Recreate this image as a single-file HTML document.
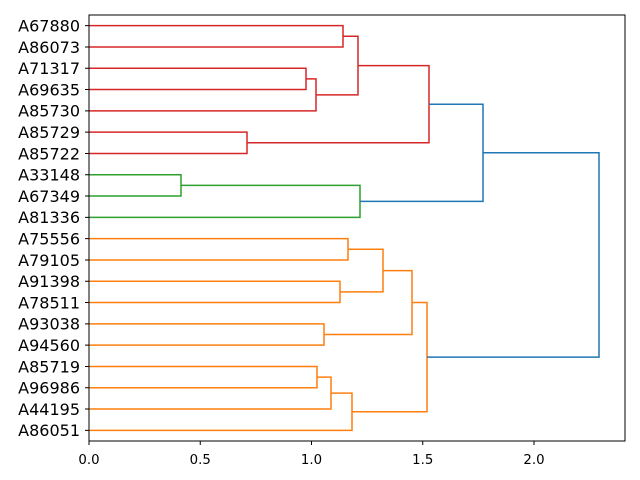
<!DOCTYPE html>
<html><head><meta charset="utf-8"><style>body{margin:0;background:#fff}svg{display:block}</style></head><body>
<svg width="640" height="480" xmlns="http://www.w3.org/2000/svg" font-family="DejaVu Sans, Liberation Sans, sans-serif">
<rect width="640" height="480" fill="#fff"/>
<g fill="none" stroke-width="1.5">
<g stroke="#d62728">
<path d="M89,25.65H343V46.95H89"/>
<path d="M89,68.25H306V89.55H89"/>
<path d="M306,78.9H316V110.85H89"/>
<path d="M343,36.3H358V94.875H316"/>
<path d="M89,132.15H247V153.45H89"/>
<path d="M358,65.59H429V142.8H247"/>
</g>
<g stroke="#2ca02c">
<path d="M89,174.75H181V196.05H89"/>
<path d="M181,185.4H360V217.35H89"/>
</g>
<g stroke="#ff7f0e">
<path d="M89,238.65H348V259.95H89"/>
<path d="M89,281.25H340V302.55H89"/>
<path d="M348,249.3H383V291.9H340"/>
<path d="M89,323.85H324V345.15H89"/>
<path d="M383,270.6H412V334.5H324"/>
<path d="M89,366.45H317V387.75H89"/>
<path d="M317,377.1H331V409.05H89"/>
<path d="M331,393.1H352V430.35H89"/>
<path d="M412,302.55H427V411.7H352"/>
</g>
<g stroke="#1f77b4">
<path d="M429,104.2H483V201.4H360"/>
<path d="M483,152.8H599V357.1H427"/>
</g>
</g>
<rect x="89" y="15" width="536" height="426" fill="none" stroke="#000" stroke-width="1"/>
<g stroke="#000">
<path d="M89,441v4M200.25,441v4M311.5,441v4M422.75,441v4M534,441v4"/>
<path d="M89,25.65h-4M89,46.95h-4M89,68.25h-4M89,89.55h-4M89,110.85h-4M89,132.15h-4M89,153.45h-4M89,174.75h-4M89,196.05h-4M89,217.35h-4M89,238.65h-4M89,259.95h-4M89,281.25h-4M89,302.55h-4M89,323.85h-4M89,345.15h-4M89,366.45h-4M89,387.75h-4M89,409.05h-4M89,430.35h-4"/>
</g>
<g font-size="13.3" text-anchor="middle" fill="#000">
<text x="89" y="464">0.0</text><text x="200.25" y="464">0.5</text><text x="311.5" y="464">1.0</text><text x="422.75" y="464">1.5</text><text x="534" y="464">2.0</text>
</g>
<g font-size="16" text-anchor="end" fill="#000">
<text x="80" y="31.5">A67880</text><text x="80" y="52.8">A86073</text><text x="80" y="74.1">A71317</text><text x="80" y="95.4">A69635</text><text x="80" y="116.7">A85730</text><text x="80" y="138">A85729</text><text x="80" y="159.3">A85722</text><text x="80" y="180.6">A33148</text><text x="80" y="201.9">A67349</text><text x="80" y="223.2">A81336</text><text x="80" y="244.5">A75556</text><text x="80" y="265.8">A79105</text><text x="80" y="287.1">A91398</text><text x="80" y="308.4">A78511</text><text x="80" y="329.7">A93038</text><text x="80" y="351">A94560</text><text x="80" y="372.3">A85719</text><text x="80" y="393.6">A96986</text><text x="80" y="414.9">A44195</text><text x="80" y="436.2">A86051</text>
</g>
</svg>
</body></html>
